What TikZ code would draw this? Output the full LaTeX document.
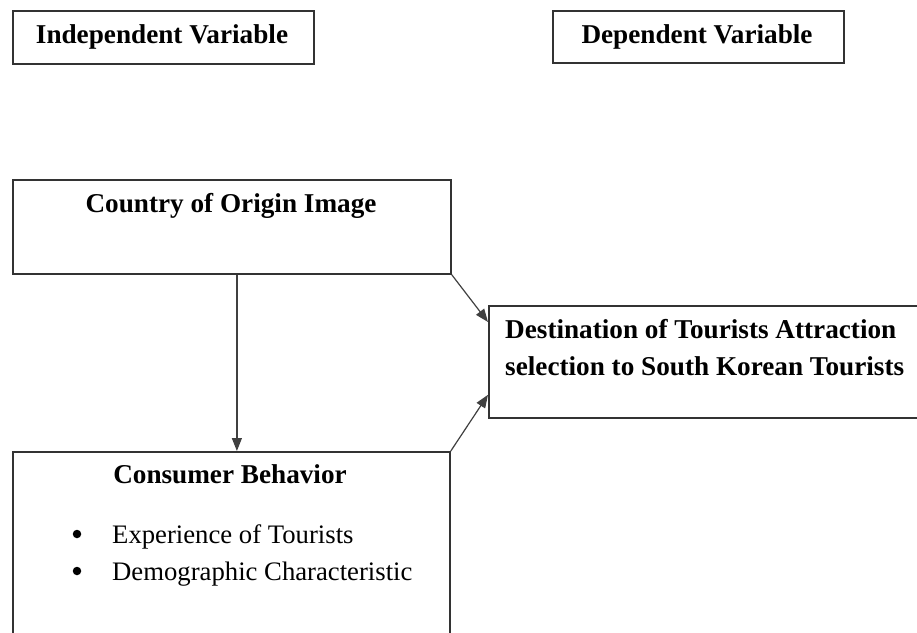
\documentclass[tikz,border=0pt]{standalone}
\usepackage{fontspec}
\setmainfont{Liberation Serif}
\usetikzlibrary{arrows.meta}
\begin{document}
\begin{tikzpicture}[x=1pt,y=-1pt,
 box/.style={draw=black!80, line width=1.8pt, inner sep=0pt, anchor=north west},
 btxt/.style={font=\fontsize{27.2}{32}\selectfont\bfseries, anchor=base, inner sep=0pt},
 bltxt/.style={font=\fontsize{27.2}{32}\selectfont\bfseries, anchor=base west, inner sep=0pt},
 rtxt/.style={font=\fontsize{26.7}{32}\selectfont, anchor=base west, inner sep=0pt},
 bul/.style={inner sep=0pt, fill=black, circle, minimum size=8.5pt},
 arr/.style={draw=black!75, line width=1.2pt, -{Triangle[length=13pt,width=10pt]}}]
\useasboundingbox (0,0) rectangle (917,632);
\clip (0,0) rectangle (917,632);
% boxes
\node[box, minimum width=301pt, minimum height=53pt] (ind) at (12,10) {};
\node[box, minimum width=291pt, minimum height=52pt] (dep) at (552,10) {};
\node[box, minimum width=438pt, minimum height=94pt] (country) at (12,179) {};
\node[box, minimum width=437pt, minimum height=250pt] (cons) at (12,451) {};
\node[box, minimum width=440pt, minimum height=112pt] (dest) at (488,305) {};
% texts
\node[btxt] (indt) at (162,43) {Independent Variable};
\node[btxt] (dept) at (697,43) {Dependent Variable};
\node[btxt] (countryt) at (231,212) {Country of Origin Image};
\node[btxt] (const) at (230,483) {Consumer Behavior};
\node[bltxt] (destt1) at (505,338) {Destination of Tourists Attraction};
\node[bltxt] (destt2) at (505,375) {selection to South Korean Tourists};
\node[bul] (b1) at (77,534) {};
\node[bul] (b2) at (77,571) {};
\node[rtxt] (i1) at (112,543) {Experience of Tourists};
\node[rtxt] (i2) at (112,580) {Demographic Characteristic};
% arrows
\draw[arr] (country.south east) -- ([yshift=-17pt]dest.north west);
\draw[arr] (cons.north east) -- ([yshift=24pt]dest.south west);
\draw[arr] ([xshift=5pt]country.south) -- ([xshift=5.5pt]cons.north);
\end{tikzpicture}
\end{document}
